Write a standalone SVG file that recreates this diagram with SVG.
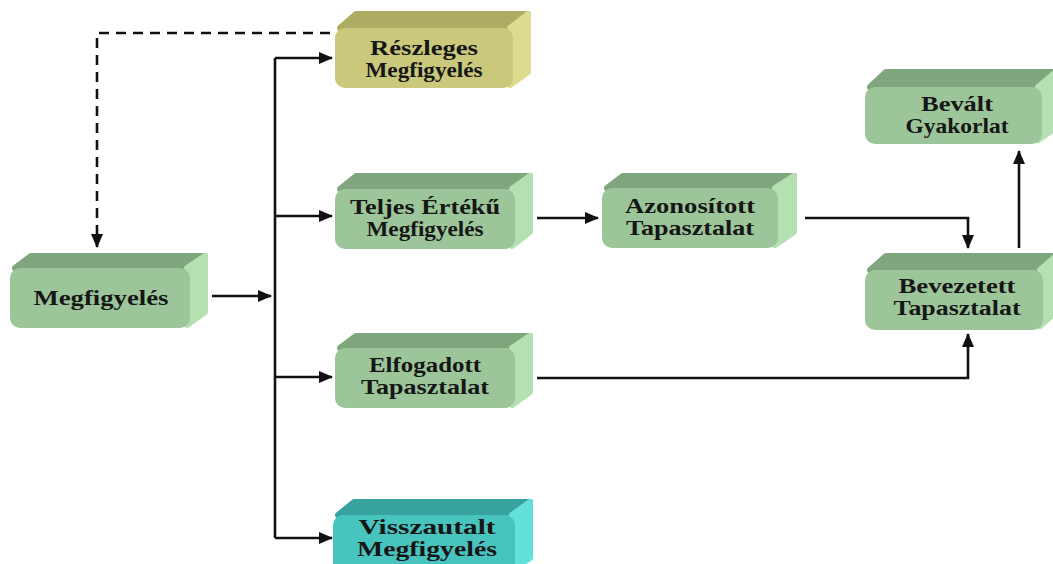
<svg xmlns="http://www.w3.org/2000/svg" width="1053" height="564" viewBox="0 0 1053 564">
  <style>
    .lbl { font-family: "Liberation Serif", "Times New Roman", serif; font-weight: bold; font-size: 21px; fill: #161616; text-anchor: middle; }
    .g .front { fill: #9cc69a; }
    .g .top { fill: #7fa67d; stroke: #7fa67d; }
    .g .side { fill: #b5e0b2; stroke: #b5e0b2; }
    .y .front { fill: #c9c87b; }
    .y .top { fill: #aeac62; stroke: #aeac62; }
    .y .side { fill: #dcdb8e; stroke: #dcdb8e; }
    .t .front { fill: #48c4bf; }
    .t .top { fill: #38a29e; stroke: #38a29e; }
    .t .side { fill: #63e0da; stroke: #63e0da; }
    .top, .side { stroke-width: 6; stroke-linejoin: round; }
    .wire { fill: none; stroke: #111; stroke-width: 2.6; }
    .dash { stroke-dasharray: 10 7; }
  </style>
  <defs>
    <marker id="arrow" markerUnits="userSpaceOnUse" markerWidth="14" markerHeight="14" viewBox="0 0 14 14" refX="13" refY="7" orient="auto">
      <path d="M0,1 L14,7 L0,13 Z" fill="#111"/>
    </marker>
  </defs>

  <!-- connectors -->
  <g id="connectors">
    <path class="wire dash" d="M330,33 H97 V247" marker-end="url(#arrow)"/>
    <path class="wire" d="M275,58 V538"/>
    <path class="wire" d="M275,58 H332" marker-end="url(#arrow)"/>
    <path class="wire" d="M275,216 H332" marker-end="url(#arrow)"/>
    <path class="wire" d="M275,377 H332" marker-end="url(#arrow)"/>
    <path class="wire" d="M275,538 H332" marker-end="url(#arrow)"/>
    <path class="wire" d="M212,296 H271" marker-end="url(#arrow)"/>
    <path class="wire" d="M537,218 H598" marker-end="url(#arrow)"/>
    <path class="wire" d="M805,218 H968 V248" marker-end="url(#arrow)"/>
    <path class="wire" d="M1019,248 V151" marker-end="url(#arrow)"/>
    <path class="wire" d="M537,378 H968 V334" marker-end="url(#arrow)"/>
  </g>

  <!-- Részleges Megfigyelés -->
  <g id="reszleges" class="y">
    <polygon class="top" points="340,28 356,14 528,14 510,28"/>
    <polygon class="side" points="510,28 528,14 528,72 510,85"/>
    <rect class="front" x="335" y="28" width="178" height="60" rx="10"/>
    <text class="lbl" x="424" y="55" textLength="108" lengthAdjust="spacingAndGlyphs">Részleges</text>
    <text class="lbl" x="424" y="77" textLength="117" lengthAdjust="spacingAndGlyphs">Megfigyelés</text>
  </g>

  <!-- Megfigyelés -->
  <g id="megfigyeles" class="g">
    <polygon class="top" points="15,268 31,256 205,256 187,268"/>
    <polygon class="side" points="187,268 205,256 205,312 187,325"/>
    <rect class="front" x="10" y="268" width="180" height="60" rx="10"/>
    <text class="lbl" x="101" y="305" textLength="135" lengthAdjust="spacingAndGlyphs">Megfigyelés</text>
  </g>

  <!-- Teljes Értékű Megfigyelés -->
  <g id="teljes" class="g">
    <polygon class="top" points="340,189 356,176 530,176 512,189"/>
    <polygon class="side" points="512,189 530,176 530,232 512,246"/>
    <rect class="front" x="335" y="189" width="180" height="60" rx="10"/>
    <text class="lbl" x="425" y="214" textLength="150" lengthAdjust="spacingAndGlyphs">Teljes Értékű</text>
    <text class="lbl" x="425" y="236" textLength="117" lengthAdjust="spacingAndGlyphs">Megfigyelés</text>
  </g>

  <!-- Azonosított Tapasztalat -->
  <g id="azonositott" class="g">
    <polygon class="top" points="607,188 623,176 794,176 775,188"/>
    <polygon class="side" points="775,188 794,176 794,232 775,245"/>
    <rect class="front" x="602" y="188" width="176" height="60" rx="10"/>
    <text class="lbl" x="690" y="213" textLength="130" lengthAdjust="spacingAndGlyphs">Azonosított</text>
    <text class="lbl" x="690" y="235" textLength="128" lengthAdjust="spacingAndGlyphs">Tapasztalat</text>
  </g>

  <!-- Elfogadott Tapasztalat -->
  <g id="elfogadott" class="g">
    <polygon class="top" points="340,348 356,336 530,336 512,348"/>
    <polygon class="side" points="512,348 530,336 530,392 512,405"/>
    <rect class="front" x="335" y="348" width="180" height="60" rx="10"/>
    <text class="lbl" x="425" y="372" textLength="112" lengthAdjust="spacingAndGlyphs">Elfogadott</text>
    <text class="lbl" x="425" y="394" textLength="128" lengthAdjust="spacingAndGlyphs">Tapasztalat</text>
  </g>

  <!-- Visszautalt Megfigyelés -->
  <g id="visszautalt" class="t">
    <polygon class="top" points="338,515 354,502 530,502 512,515"/>
    <polygon class="side" points="512,515 530,502 530,558 512,570"/>
    <rect class="front" x="333" y="515" width="182" height="60" rx="10"/>
    <text class="lbl" x="427" y="534" textLength="137" lengthAdjust="spacingAndGlyphs">Visszautalt</text>
    <text class="lbl" x="427" y="556" textLength="140" lengthAdjust="spacingAndGlyphs">Megfigyelés</text>
  </g>

  <!-- Bevált Gyakorlat -->
  <g id="bevalt" class="g">
    <polygon class="top" points="870,87 886,72 1056,72 1038,87"/>
    <polygon class="side" points="1038,87 1056,72 1056,128 1038,140"/>
    <rect class="front" x="865" y="87" width="177" height="57" rx="10"/>
    <text class="lbl" x="957" y="111" textLength="72" lengthAdjust="spacingAndGlyphs">Bevált</text>
    <text class="lbl" x="957" y="133" textLength="103" lengthAdjust="spacingAndGlyphs">Gyakorlat</text>
  </g>

  <!-- Bevezetett Tapasztalat -->
  <g id="bevezetett" class="g">
    <polygon class="top" points="870,270 886,256 1056,256 1040,270"/>
    <polygon class="side" points="1040,270 1056,256 1056,312 1040,326"/>
    <rect class="front" x="865" y="270" width="178" height="60" rx="10"/>
    <text class="lbl" x="957" y="293" textLength="117" lengthAdjust="spacingAndGlyphs">Bevezetett</text>
    <text class="lbl" x="957" y="315" textLength="127" lengthAdjust="spacingAndGlyphs">Tapasztalat</text>
  </g>
</svg>
